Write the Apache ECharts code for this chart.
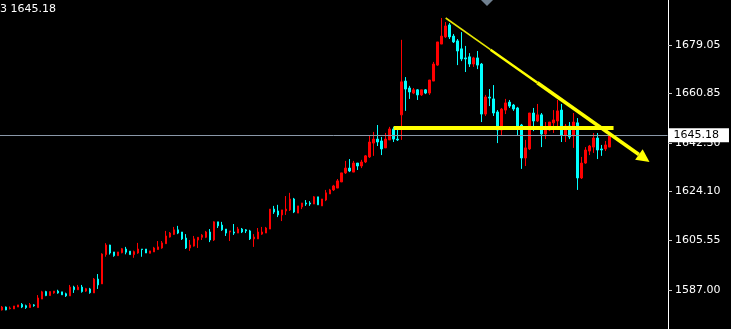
<!DOCTYPE html>
<html><head><meta charset="utf-8">
<script src="https://cdn.jsdelivr.net/npm/echarts@6/dist/echarts.min.js"></script>
<style>html,body{margin:0;padding:0;background:#000;overflow:hidden;}#c{width:731px;height:329px;}</style>
</head><body><div id="c"></div>
<script>
// Candle values: [open, close, low, high] split into arrays
const opens = [1579.5,1580.6,1580.0,1579.9,1580.6,1581.6,1581.1,1580.4,1581.4,1580.4,
1583.6,1586.4,1584.9,1585.9,1586.6,1586.3,1585.6,1584.8,1588.1,1587.1,
1588.1,1586.6,1587.4,1585.9,1591.1,1589.3,1600.3,1603.9,1601.3,1599.9,
1601.0,1602.4,1601.6,1600.3,1600.9,1602.4,1602.4,1600.8,1601.3,1602.2,
1602.8,1604.4,1606.9,1607.9,1609.6,1608.8,1606.5,1602.8,1603.5,1605.8,
1606.8,1606.8,1608.8,1605.8,1612.6,1611.4,1609.9,1608.8,1608.8,1608.4,
1609.9,1609.6,1609.2,1606.2,1606.2,1608.0,1608.4,1609.9,1617.4,1616.7,
1615.2,1616.7,1617.1,1621.2,1615.9,1618.2,1619.7,1619.7,1619.3,1622.0,
1618.6,1620.8,1623.1,1624.6,1625.3,1627.6,1631.0,1632.8,1631.3,1634.7,
1633.6,1635.1,1637.0,1642.2,1643.7,1643.0,1640.4,1643.4,1647.5,1643.7,
1652.8,1665.5,1662.9,1661.0,1662.2,1660.3,1662.2,1661.0,1665.5,1671.5,
1679.4,1682.1,1686.6,1682.4,1680.6,1677.6,1674.2,1674.6,1671.9,1674.2,
1671.9,1653.1,1659.5,1658.8,1653.9,1647.1,1654.6,1657.6,1656.5,1655.4,
1649.0,1636.6,1640.0,1653.5,1650.5,1652.8,1645.6,1647.1,1649.8,1650.5,
1654.6,1645.2,1648.6,1644.9,1649.8,1629.1,1634.7,1639.2,1640.7,1644.1,
1640.0,1640.0,1640.7];
const closes = [1580.6,1579.5,1580.2,1581.0,1581.4,1580.6,1580.4,1581.5,1581.1,1584.0,
1586.3,1584.9,1586.4,1586.6,1585.9,1585.2,1584.8,1588.1,1587.1,1588.1,
1586.4,1587.5,1586.0,1591.1,1588.9,1600.5,1603.9,1600.9,1599.9,1601.3,
1602.5,1601.2,1600.3,1601.4,1602.4,1602.2,1600.9,1601.7,1602.8,1603.2,
1604.7,1607.3,1608.4,1609.6,1608.4,1606.2,1602.8,1603.9,1606.2,1606.8,
1607.6,1608.8,1605.8,1612.6,1611.1,1609.6,1608.4,1609.2,1608.4,1609.9,
1608.8,1609.2,1606.2,1606.9,1608.8,1608.8,1610.3,1617.4,1616.3,1615.2,
1617.1,1617.4,1621.2,1616.3,1618.6,1619.7,1619.3,1619.3,1622.0,1619.0,
1621.2,1623.5,1624.6,1626.1,1628.0,1631.0,1632.8,1631.7,1634.7,1633.6,
1635.1,1637.4,1642.6,1643.7,1642.6,1640.0,1643.7,1647.5,1643.7,1643.4,
1665.2,1662.5,1661.4,1662.2,1660.3,1662.2,1661.0,1665.9,1671.9,1680.2,
1682.4,1686.2,1682.1,1680.2,1676.8,1673.8,1673.8,1671.9,1674.2,1671.5,
1653.1,1659.5,1659.1,1653.5,1647.1,1655.0,1657.3,1656.1,1655.0,1648.3,
1636.6,1640.4,1653.5,1650.5,1652.8,1645.6,1647.1,1650.1,1650.9,1654.3,
1645.2,1648.6,1644.5,1650.1,1629.1,1634.7,1639.6,1641.1,1644.1,1639.6,
1639.6,1641.5,1645.18];
const lows = [1579.3,1579.4,1579.7,1579.9,1580.6,1580.2,1579.9,1580.4,1580.7,1580.4,
1583.6,1584.7,1584.9,1585.6,1585.6,1585.2,1584.4,1584.8,1585.9,1587.0,
1586.0,1586.3,1585.6,1585.9,1587.4,1589.3,1599.5,1600.3,1599.5,1599.9,
1600.8,1600.4,1600.3,1599.1,1600.6,1599.5,1600.9,1600.8,1601.3,1602.2,
1602.5,1604.4,1606.7,1607.7,1608.0,1605.8,1602.4,1601.7,1603.3,1602.8,
1605.8,1606.5,1605.0,1605.4,1610.3,1609.2,1607.3,1605.4,1607.7,1608.4,
1608.4,1608.4,1605.8,1603.2,1606.2,1607.7,1608.4,1609.9,1615.6,1614.4,
1612.9,1615.2,1616.7,1615.9,1615.9,1617.4,1618.6,1618.6,1619.3,1619.0,
1618.6,1620.4,1623.1,1624.2,1625.3,1627.6,1630.6,1631.3,1631.3,1632.1,
1632.8,1634.7,1636.6,1637.4,1641.1,1637.7,1640.4,1643.4,1642.6,1643.0,
1643.4,1654.3,1658.8,1660.6,1658.4,1659.9,1660.6,1660.3,1665.5,1671.2,
1679.4,1681.7,1681.3,1679.8,1671.5,1673.0,1668.9,1670.8,1670.8,1670.0,
1650.1,1652.4,1656.1,1652.4,1642.2,1645.2,1653.1,1655.4,1654.3,1644.9,
1632.5,1633.6,1639.6,1646.7,1650.1,1640.7,1643.7,1646.7,1646.0,1647.1,
1642.6,1642.6,1643.7,1640.4,1624.6,1628.7,1634.4,1637.7,1638.5,1636.2,
1637.4,1639.2,1640.7];
const highs = [1581.0,1580.8,1580.8,1581.0,1581.4,1582.1,1581.5,1582.1,1581.7,1585.1,
1586.7,1586.7,1586.4,1586.6,1587.1,1586.3,1586.0,1588.9,1588.6,1588.9,
1588.9,1587.8,1587.8,1591.5,1593.0,1600.8,1604.6,1604.0,1601.3,1601.3,
1602.8,1603.2,1601.6,1601.8,1604.7,1602.4,1602.4,1601.7,1603.2,1605.4,
1605.4,1609.2,1608.8,1610.7,1611.1,1608.8,1608.0,1605.8,1607.3,1606.9,
1608.0,1609.2,1609.9,1612.8,1612.6,1612.6,1609.9,1609.2,1611.8,1610.7,
1610.3,1609.9,1609.6,1608.0,1610.3,1610.7,1610.7,1617.4,1618.6,1619.0,
1617.1,1622.3,1623.5,1621.6,1618.6,1619.7,1620.8,1620.4,1622.3,1622.0,
1621.2,1624.6,1625.0,1626.5,1628.7,1631.0,1635.5,1636.2,1635.5,1634.7,
1635.9,1637.7,1644.9,1646.4,1649.0,1644.5,1646.0,1648.3,1648.3,1647.5,
1681.0,1667.0,1663.7,1662.9,1662.5,1662.2,1662.5,1665.9,1672.7,1680.2,
1689.2,1687.7,1687.3,1683.2,1681.3,1683.9,1678.7,1676.0,1674.6,1676.8,
1672.3,1660.3,1662.5,1664.0,1654.6,1655.4,1658.8,1658.4,1656.9,1655.8,
1649.4,1643.4,1653.5,1655.4,1656.9,1653.5,1650.1,1650.1,1654.6,1658.4,
1656.9,1649.4,1650.1,1653.5,1651.6,1637.0,1640.7,1641.5,1646.0,1646.0,
1641.5,1643.0,1645.2];

const shiftBars = 14;                       // empty bars right of the last candle
const yTickValues = [1587.00, 1605.55, 1624.10, 1642.30, 1660.85, 1679.05];
const yMin = 1572.35, yMax = 1695.96;
const lastPrice = 1645.18;
const headerText = '3 1645.18';
// annotations in data coordinates: [bar index, price]
const trendLine = [[111, 1689.2], [162, 1635.1]];
const supportLine = [[98, 1647.9], [153, 1647.9]];

const cats = [];
for (let i = 0; i < opens.length + shiftBars; i++) cats.push(String(i));
const candles = opens.map((o, i) => [o, closes[i], lows[i], highs[i]]);

const FONT = 'DejaVu Sans';
const chart = echarts.init(document.getElementById('c'), null, {renderer: 'canvas'});
chart.setOption({
  animation: false,
  backgroundColor: '#000000',
  grid: {left: -0.5, width: 668, top: 0, bottom: 0},
  xAxis: {
    type: 'category', data: cats, boundaryGap: true,
    axisLine: {show: false}, axisTick: {show: false}, axisLabel: {show: false}, splitLine: {show: false}
  },
  yAxis: {
    type: 'value', position: 'right', offset: 0.5, min: yMin, max: yMax, scale: true,
    axisLine: {show: true, lineStyle: {color: '#ffffff', width: 1}},
    axisTick: {show: true, length: 4, customValues: yTickValues, lineStyle: {color: '#c8c8c8'}},
    axisLabel: {customValues: yTickValues, formatter: v => v.toFixed(2), color: '#ffffff',
      fontSize: 11, fontFamily: FONT, margin: 7},
    splitLine: {show: false}
  },
  series: [{
    type: 'candlestick',
    data: candles,
    barWidth: 2,
    itemStyle: {color: '#ff0000', color0: '#00ffff', borderColor: '#ff0000', borderColor0: '#00ffff',
      borderColorDoji: '#00ffff', borderWidth: 1},
    markLine: {
      silent: true, symbol: 'none', animation: false,
      lineStyle: {color: '#8a98a8', width: 1, type: 'solid'},
      label: {show: true, position: 'end', distance: 1, formatter: () => lastPrice.toFixed(2),
        backgroundColor: '#ffffff', color: '#000000', fontSize: 11, fontFamily: FONT,
        padding: [1, 10, 1, 5], lineHeight: 12},
      emphasis: {disabled: true},
      data: [{yAxis: lastPrice}]
    }
  }]
});

const px = pt => chart.convertToPixel({gridIndex: 0}, pt);
const a = px(trendLine[0]), b = px(trendLine[1]);
const s0 = px(supportLine[0]), s1 = px(supportLine[1]);
const dx = b[0] - a[0], dy = b[1] - a[1], len = Math.hypot(dx, dy);
const ux = dx / len, uy = dy / len, nx = -uy, ny = ux;
const headLen = 13, headHalf = 6.5;
const base = [b[0] - ux * headLen, b[1] - uy * headLen];
const lerp = t => [a[0] + dx * t, a[1] + dy * t];
const m1 = lerp(0.22), m2 = lerp(0.45);
const YEL = '#ffff00';
chart.setOption({
  graphic: [
    {type: 'text', left: 0, top: 4, z: 10, style: {text: headerText, fill: '#ffffff', font: '11px "DejaVu Sans"'}},
    {type: 'polygon', z: 10, shape: {points: [[481, 0], [493, 0], [487, 6]]}, style: {fill: '#708090'}},
    {type: 'line', z: 10, shape: {x1: s0[0], y1: s0[1], x2: s1[0], y2: s1[1]}, style: {stroke: YEL, lineWidth: 4}},
    {type: 'line', z: 10, shape: {x1: a[0], y1: a[1], x2: m1[0], y2: m1[1]}, style: {stroke: '#e6e600', lineWidth: 1.6}},
    {type: 'line', z: 10, shape: {x1: m1[0], y1: m1[1], x2: m2[0], y2: m2[1]}, style: {stroke: YEL, lineWidth: 2.5}},
    {type: 'line', z: 10, shape: {x1: m2[0], y1: m2[1], x2: base[0], y2: base[1]}, style: {stroke: YEL, lineWidth: 3.5}},
    {type: 'polygon', z: 10, shape: {points: [b, [base[0] + nx * headHalf, base[1] + ny * headHalf], [base[0] - nx * headHalf, base[1] - ny * headHalf]]}, style: {fill: YEL}}
  ]
});
</script>
</body></html>
